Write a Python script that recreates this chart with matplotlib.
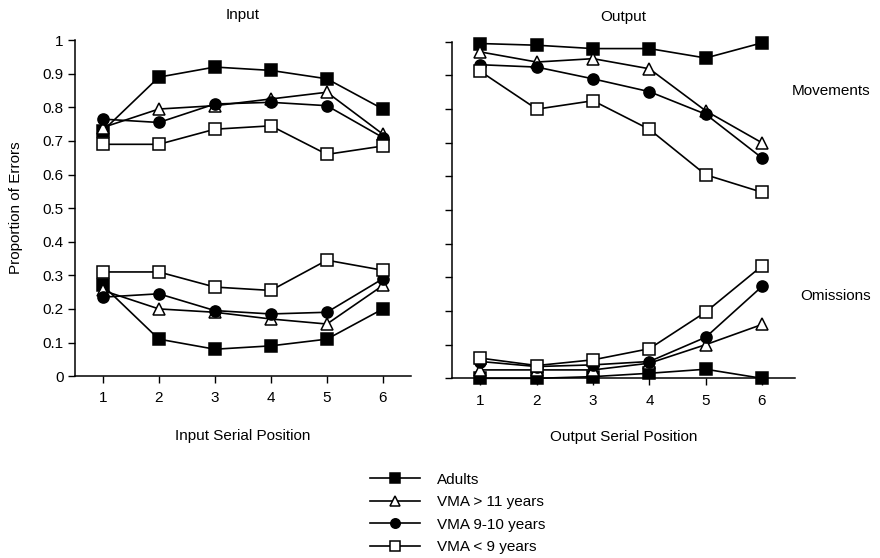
import matplotlib.pyplot as plt

plt.rcParams['font.family'] = ['Liberation Sans', 'DejaVu Sans']

positions = [1, 2, 3, 4, 5, 6]
groups = ['Adults', 'VMA > 11 years', 'VMA 9-10 years', 'VMA < 9 years']

# Input - movements (upper curves) and omissions (lower curves)
in_move_adults = [0.73, 0.89, 0.92, 0.91, 0.885, 0.795]
in_move_vma11 = [0.74, 0.795, 0.805, 0.825, 0.845, 0.72]
in_move_vma910 = [0.765, 0.755, 0.81, 0.815, 0.805, 0.71]
in_move_vma9 = [0.69, 0.69, 0.735, 0.745, 0.66, 0.685]

in_omit_adults = [0.27, 0.11, 0.08, 0.09, 0.11, 0.20]
in_omit_vma11 = [0.255, 0.20, 0.19, 0.17, 0.155, 0.27]
in_omit_vma910 = [0.235, 0.245, 0.195, 0.185, 0.19, 0.29]
in_omit_vma9 = [0.31, 0.31, 0.265, 0.255, 0.345, 0.315]

# Output
out_move_adults = [0.995, 0.99, 0.98, 0.98, 0.952, 0.997]
out_move_vma11 = [0.97, 0.94, 0.95, 0.92, 0.795, 0.70]
out_move_vma910 = [0.932, 0.925, 0.89, 0.852, 0.785, 0.655]
out_move_vma9 = [0.912, 0.80, 0.825, 0.74, 0.605, 0.553]

out_omit_adults = [0.0, 0.0, 0.005, 0.015, 0.027, 0.0]
out_omit_vma11 = [0.025, 0.025, 0.025, 0.045, 0.10, 0.16]
out_omit_vma910 = [0.05, 0.035, 0.04, 0.05, 0.122, 0.273]
out_omit_vma9 = [0.06, 0.038, 0.055, 0.088, 0.197, 0.334]

styles = [
    dict(marker='s', mfc='black', mec='black'),
    dict(marker='^', mfc='white', mec='black'),
    dict(marker='o', mfc='black', mec='black'),
    dict(marker='s', mfc='white', mec='black'),
]

fig = plt.figure(figsize=(8.8, 5.58), dpi=100)
ax1 = fig.add_axes([0.085, 0.326, 0.382, 0.602])
ax2 = fig.add_axes([0.514, 0.322, 0.389, 0.603])

left_sets = [(in_move_adults, in_omit_adults), (in_move_vma11, in_omit_vma11),
             (in_move_vma910, in_omit_vma910), (in_move_vma9, in_omit_vma9)]
right_sets = [(out_move_adults, out_omit_adults), (out_move_vma11, out_omit_vma11),
              (out_move_vma910, out_omit_vma910), (out_move_vma9, out_omit_vma9)]

handles = []
for ax, sets in [(ax1, left_sets), (ax2, right_sets)]:
    for (move, omit), st, name in zip(sets, styles, groups):
        h, = ax.plot(positions, move, color='black', lw=1.2, ms=8, mew=1.1,
                     label=name, clip_on=False, **st)
        ax.plot(positions, omit, color='black', lw=1.2, ms=8, mew=1.1,
                clip_on=False, **st)
        if ax is ax1:
            handles.append(h)

for ax in (ax1, ax2):
    ax.spines['top'].set_visible(False)
    ax.spines['right'].set_visible(False)
    ax.spines['left'].set_linewidth(1.1)
    ax.spines['bottom'].set_linewidth(1.1)
    ax.set_ylim(0, 1)
    ax.set_yticks([0, 0.1, 0.2, 0.3, 0.4, 0.5, 0.6, 0.7, 0.8, 0.9, 1])
    ax.set_xticks(positions)
    ax.tick_params(direction='out', length=5, width=1, labelsize=11)
    ax.tick_params(axis='x', pad=6)
    ax.tick_params(axis='y', pad=3)

ax1.set_xlim(0.5, 6.5)
ax2.set_xlim(0.5, 6.58)
ax1.set_yticklabels(['0', '0.1', '0.2', '0.3', '0.4', '0.5', '0.6', '0.7', '0.8', '0.9', '1'])
ax2.set_yticklabels([])

ax1.set_title('Input', fontsize=11, pad=15)
ax2.set_title('Output', fontsize=11, pad=15)
ax1.set_xlabel('Input Serial Position', fontsize=11, labelpad=17)
ax2.set_xlabel('Output Serial Position', fontsize=11, labelpad=16)
ax1.set_ylabel('Proportion of Errors', fontsize=11, labelpad=14)

fig.text(0.90, 0.837, 'Movements', fontsize=11, va='center')
fig.text(0.909, 0.469, 'Omissions', fontsize=11, va='center')

fig.legend(handles=handles, loc='upper left', bbox_to_anchor=(0.42, 0.153),
           frameon=False, fontsize=11, handlelength=3.3, handletextpad=1.1,
           labelspacing=0.56, borderaxespad=0, borderpad=0, markerscale=0.85)

plt.savefig('out.png', dpi=100)
